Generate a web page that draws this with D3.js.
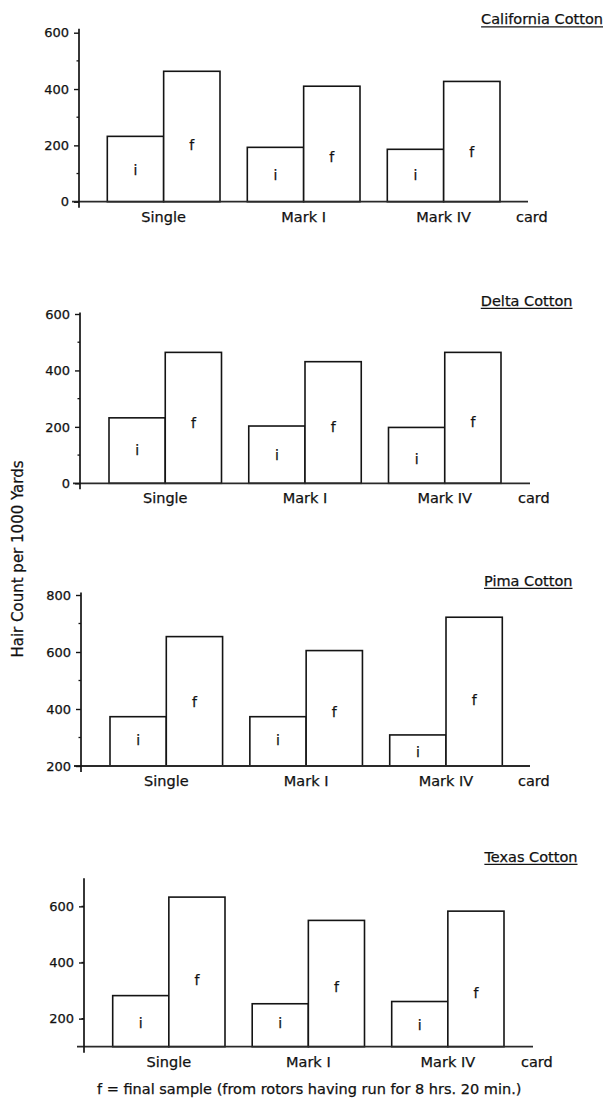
<!DOCTYPE html>
<html>
<head>
<meta charset="utf-8">
<script src="https://cdn.jsdelivr.net/npm/d3@7"></script>
<style>
  html, body { margin: 0; padding: 0; background: #fff; }
  svg { display: block; }
  text { font-family: "DejaVu Sans", sans-serif; fill: #111; stroke: #111; stroke-width: 0.25px; }
</style>
</head>
<body>
<svg id="chart" width="606" height="1101"></svg>
<script>
// ---------------- data ----------------
const categories = ["Single", "Mark I", "Mark IV"];
const sampleKeys = ["i", "f"];
const panelTitles = ["California Cotton", "Delta Cotton", "Pima Cotton", "Texas Cotton"];

const californiaInitial = [232, 193, 186];
const californiaFinal   = [463, 410, 427];
const deltaInitial      = [232, 203, 198];
const deltaFinal        = [464, 431, 464];
const pimaInitial       = [373, 373, 309];
const pimaFinal         = [654, 605, 722];
const texasInitial      = [282, 253, 261];
const texasFinal        = [633, 550, 583];

const californiaTicks = [0, 200, 400, 600];
const deltaTicks      = [0, 200, 400, 600];
const pimaTicks       = [200, 400, 600, 800];
const texasTicks      = [200, 400, 600];

const californiaDomain = [0, 600];
const deltaDomain      = [0, 600];
const pimaDomain       = [200, 800];
const texasDomain      = [100, 700];

const yAxisTitle = "Hair Count per 1000 Yards";
const xAxisUnit = "card";
const footnote = "f = final sample (from rotors having run for 8 hrs. 20 min.)";

// ---------------- layout ----------------
const panels = [
  { title: panelTitles[0], initial: californiaInitial, final: californiaFinal, ticks: californiaTicks, domain: californiaDomain,
    axisX: 79, yRange: [201.7, 32.7], bars: [107.3, 500], axisEnd: 528, topExt: 4, titleRight: 603, titleBase: 24,
    labI: [112, 95, 95], labF: [201, 160, 178] },
  { title: panelTitles[1], initial: deltaInitial, final: deltaFinal, ticks: deltaTicks, domain: deltaDomain,
    axisX: 80, yRange: [483.3, 314], bars: [109, 501], axisEnd: 530, topExt: 1.5, titleRight: 572.5, titleBase: 305.5,
    labI: [118, 100, 85], labF: [213, 198, 218] },
  { title: panelTitles[2], initial: pimaInitial, final: pimaFinal, ticks: pimaTicks, domain: pimaDomain,
    axisX: 81, yRange: [766, 595], bars: [110, 502.3], axisEnd: 530, topExt: 2.5, titleRight: 572.5, titleBase: 585.5,
    labI: [291, 291, 250], labF: [425, 390, 432] },
  { title: panelTitles[3], initial: texasInitial, final: texasFinal, ticks: texasTicks, domain: texasDomain,
    axisX: 84, yRange: [1046.7, 878.3], bars: [112.7, 504], axisEnd: 533, topExt: 0, titleRight: 577.5, titleBase: 861.5,
    labI: [186, 186, 179], labF: [338, 314, 292] }
];

const ink = "#141414";
const svg = d3.select("#chart");

panels.forEach(p => {
  const g = svg.append("g");
  const y = d3.scaleLinear().domain(p.domain).range(p.yRange);
  const x = d3.scaleBand().domain(categories).range(p.bars).paddingInner(0.195).paddingOuter(0);
  const xs = d3.scaleBand().domain(sampleKeys).range([0, x.bandwidth()]).padding(0);

  const base = y(p.domain[0]);

  // bars
  const rows = [];
  categories.forEach((c, k) => {
    rows.push({ cat: c, key: "i", v: p.initial[k], lab: p.labI[k] });
    rows.push({ cat: c, key: "f", v: p.final[k], lab: p.labF[k] });
  });
  g.selectAll("rect.bar").data(rows).join("rect")
    .attr("class", "bar")
    .attr("x", d => x(d.cat) + xs(d.key))
    .attr("y", d => y(d.v))
    .attr("width", xs.bandwidth())
    .attr("height", d => base - y(d.v))
    .attr("fill", "#fff")
    .attr("stroke", ink)
    .attr("stroke-width", 1.6);

  // i / f letters inside bars
  g.selectAll("text.lab").data(rows).join("text")
    .attr("class", "lab")
    .attr("x", d => x(d.cat) + xs(d.key) + xs.bandwidth() / 2)
    .attr("y", d => y(d.lab) + 5)
    .attr("text-anchor", "middle")
    .attr("font-size", 14)
    .text(d => d.key);

  // x axis line
  g.append("line")
    .attr("x1", p.axisX - 7).attr("x2", p.axisEnd)
    .attr("y1", base).attr("y2", base)
    .attr("stroke", "#2a2a2a").attr("stroke-width", 1.8);

  // y axis via d3.axisLeft
  const yAxis = d3.axisLeft(y).tickValues(p.ticks).tickSize(5).tickPadding(5).tickFormat(d3.format("d"));
  const ax = g.append("g").attr("transform", `translate(${p.axisX},0)`).call(yAxis);
  ax.select(".domain").remove();
  ax.selectAll(".tick line").attr("stroke", ink).attr("stroke-width", 1.4);
  ax.selectAll(".tick text").attr("font-family", "DejaVu Sans").attr("font-size", 13).attr("fill", "#111");

  // minor ticks
  const minor = d3.range(p.domain[0] + 100, p.domain[1], 200);
  g.selectAll("line.minor").data(minor).join("line")
    .attr("class", "minor")
    .attr("x1", p.axisX - 2.5).attr("x2", p.axisX)
    .attr("y1", d => y(d)).attr("y2", d => y(d))
    .attr("stroke", ink).attr("stroke-width", 1.3);

  // vertical axis line
  g.append("line")
    .attr("x1", p.axisX).attr("x2", p.axisX)
    .attr("y1", y(p.domain[1]) - p.topExt).attr("y2", base + 6)
    .attr("stroke", ink).attr("stroke-width", 1.7);

  // category labels
  g.selectAll("text.cat").data(categories).join("text")
    .attr("class", "cat")
    .attr("x", d => x(d) + x.bandwidth() / 2)
    .attr("y", base + 20)
    .attr("text-anchor", "middle")
    .attr("font-size", 14.5)
    .text(d => d);

  g.append("text")
    .attr("x", p.axisEnd - 12)
    .attr("y", base + 20)
    .attr("font-size", 14.5)
    .text(xAxisUnit);

  // title (underlined)
  const t = g.append("text")
    .attr("x", p.titleRight)
    .attr("y", p.titleBase)
    .attr("text-anchor", "end")
    .attr("font-size", 14.5)
    .text(p.title);
  const w = t.node().getComputedTextLength();
  g.append("line")
    .attr("x1", p.titleRight - w).attr("x2", p.titleRight)
    .attr("y1", p.titleBase + 2.8).attr("y2", p.titleBase + 2.8)
    .attr("stroke", ink).attr("stroke-width", 1.2);
});

// shared y-axis title
svg.append("text")
  .attr("transform", "translate(23,559) rotate(-90)")
  .attr("text-anchor", "middle")
  .attr("font-size", 15)
  .text(yAxisTitle);

// footnote
svg.append("text")
  .attr("x", 97)
  .attr("y", 1094)
  .attr("font-size", 14.5)
  .text(footnote);
</script>
</body>
</html>
